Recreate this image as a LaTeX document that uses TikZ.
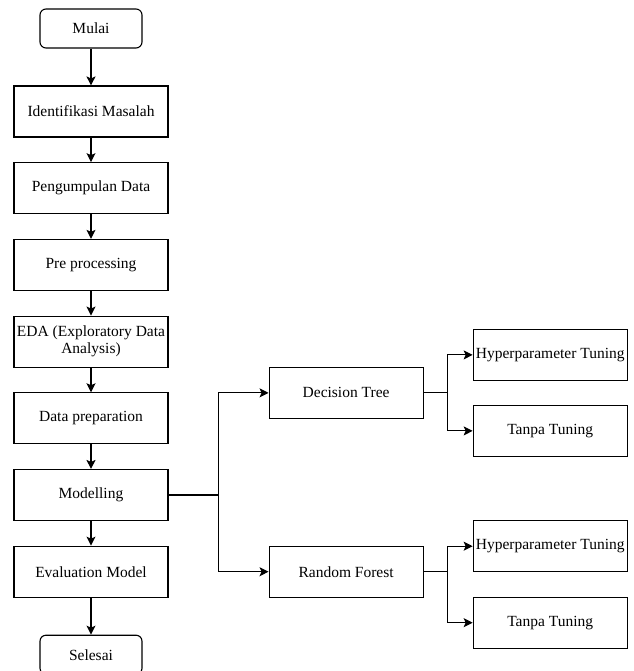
\documentclass[tikz,border=0pt]{standalone}
\usepackage{fontspec}
\setmainfont{Liberation Serif}
\usetikzlibrary{positioning}
\usetikzlibrary{arrows.meta}

\begin{document}
\begin{tikzpicture}[
            x=1pt, y=1pt,
            node distance=24.6pt and 100pt,
            font=\fontsize{15.5}{17}\selectfont,
            box/.style={
                rectangle,
                draw=black,
                line width=1.1pt,
                minimum width=154pt,
                minimum height=51pt,
                inner sep=1pt,
                align=center
            },
            terminal/.style={
                box,
                rounded corners=6pt,
                minimum width=102pt,
                minimum height=39pt
            },
            arr/.style={-{Stealth[length=9pt,width=9pt,inset=2pt]}, line width=1.1pt}
        ]
            \useasboundingbox (0,0) rectangle (633,-671);

            % Nodes
            \node[terminal] (mulai) at (91,-28.5) {Mulai};
            \node[box, below=36.9pt of mulai] (identifikasi) {Identifikasi Masalah};
            \node[box, below=of identifikasi] (pengumpulan) {Pengumpulan Data};
            \node[box, below=of pengumpulan] (preprocessing) {Pre processing};
            \node[box, below=of preprocessing] (eda) {EDA (Exploratory Data\\Analysis)};
            \node[box, below=of eda] (dataprep) {Data preparation};
            \node[box, below=of dataprep] (modelling) {Modelling};
            \node[box, below=of modelling] (evaluation) {Evaluation Model};
            \node[terminal, below=36.9pt of evaluation] (selesai) {Selesai};

            \node[box, above right=50pt and 100pt of modelling] (dtree) {Decision Tree};
            \node[box, below right=24.6pt and 100pt of modelling] (rforest) {Random Forest};

            \node[box, right=49pt of dtree, yshift=38pt] (dthyper) {Hyperparameter Tuning};
            \node[box, right=49pt of dtree, yshift=-38pt] (dtnotune) {Tanpa Tuning};
            \node[box, right=49pt of rforest, yshift=25.5pt] (rfhyper) {Hyperparameter Tuning};
            \node[box, right=49pt of rforest, yshift=-51pt] (rfnotune) {Tanpa Tuning};

            \coordinate[right=50pt of modelling] (msplit);
            \coordinate[right=23.5pt of dtree] (dtsplit);
            \coordinate[right=23.5pt of rforest] (rfsplit);

            % Arrows
            \draw[arr] (mulai) -- (identifikasi);
            \draw[arr] (identifikasi) -- (pengumpulan);
            \draw[arr] (pengumpulan) -- (preprocessing);
            \draw[arr] (preprocessing) -- (eda);
            \draw[arr] (eda) -- (dataprep);
            \draw[arr] (dataprep) -- (modelling);
            \draw[arr] (modelling) -- (evaluation);
            \draw[arr] (evaluation) -- (selesai);

            \draw[arr] (modelling) -- (msplit) |- (dtree);
            \draw[arr] (msplit) |- (rforest);
            \draw[arr] (dtree) -- (dtsplit) |- (dthyper);
            \draw[arr] (dtsplit) |- (dtnotune);
            \draw[arr] (rforest) -- (rfsplit) |- (rfhyper);
            \draw[arr] (rfsplit) |- (rfnotune);
        \end{tikzpicture}
\end{document}
